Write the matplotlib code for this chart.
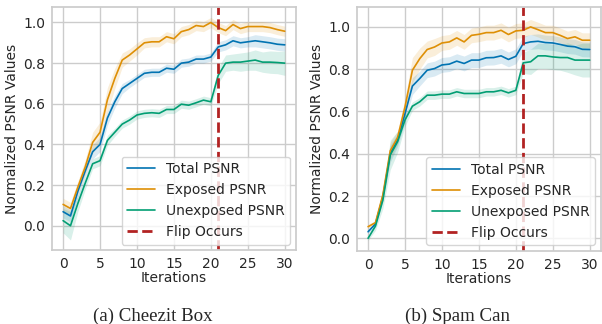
import numpy as np
import matplotlib
matplotlib.use("Agg")
import matplotlib.pyplot as plt
import seaborn as sns

iters = list(range(31))
flip_at = 21

# (a) Cheezit Box
cz_total = [0.069, 0.048, 0.17, 0.27, 0.364, 0.40, 0.53, 0.61, 0.675, 0.70, 0.725,
            0.75, 0.755, 0.755, 0.775, 0.77, 0.80, 0.805, 0.82, 0.82, 0.83,
            0.88, 0.89, 0.91, 0.90, 0.905, 0.91, 0.905, 0.90, 0.893, 0.89]
cz_exposed = [0.105, 0.085, 0.19, 0.29, 0.41, 0.46, 0.62, 0.725, 0.815, 0.84, 0.87,
              0.90, 0.905, 0.905, 0.93, 0.92, 0.955, 0.965, 0.985, 0.98, 1.0,
              0.975, 0.96, 0.99, 0.97, 0.98, 0.98, 0.98, 0.975, 0.965, 0.957]
cz_unexposed = [0.025, 0.0, 0.11, 0.21, 0.305, 0.32, 0.42, 0.46, 0.50, 0.52, 0.545,
                0.553, 0.556, 0.553, 0.572, 0.572, 0.598, 0.593, 0.605, 0.618, 0.61,
                0.74, 0.80, 0.805, 0.805, 0.81, 0.815, 0.805, 0.805, 0.803, 0.80]
cz_total_sd = [0.03, 0.03, 0.03, 0.03, 0.035, 0.035, 0.035, 0.03, 0.025, 0.02, 0.02,
               0.02, 0.02, 0.02, 0.02, 0.02, 0.02, 0.02, 0.02, 0.02, 0.02,
               0.025, 0.025, 0.025, 0.025, 0.025, 0.03, 0.03, 0.03, 0.03, 0.03]
cz_exposed_sd = [0.03, 0.03, 0.03, 0.035, 0.05, 0.05, 0.06, 0.05, 0.035, 0.03, 0.03,
                 0.025, 0.025, 0.025, 0.025, 0.025, 0.025, 0.025, 0.025, 0.025, 0.025,
                 0.025, 0.025, 0.025, 0.025, 0.025, 0.025, 0.025, 0.025, 0.025, 0.025]
cz_unexposed_sd = [0.06, 0.07, 0.04, 0.03, 0.025, 0.025, 0.025, 0.02, 0.02, 0.02, 0.02,
                   0.02, 0.02, 0.02, 0.02, 0.02, 0.02, 0.02, 0.02, 0.02, 0.02,
                   0.04, 0.04, 0.04, 0.045, 0.045, 0.05, 0.05, 0.055, 0.055, 0.06]

# (b) Spam Can
sp_total = [0.031, 0.068, 0.197, 0.40, 0.465, 0.59, 0.72, 0.756, 0.795, 0.803, 0.82,
            0.824, 0.838, 0.827, 0.843, 0.843, 0.854, 0.855, 0.863, 0.846, 0.861,
            0.921, 0.929, 0.932, 0.926, 0.924, 0.917, 0.909, 0.906, 0.894, 0.893]
sp_exposed = [0.055, 0.074, 0.205, 0.414, 0.477, 0.622, 0.795, 0.85, 0.893, 0.905, 0.924,
              0.929, 0.948, 0.929, 0.96, 0.965, 0.973, 0.973, 0.984, 0.964, 0.981,
              0.984, 1.0, 0.987, 0.973, 0.973, 0.96, 0.945, 0.953, 0.937, 0.937]
sp_unexposed = [0.0, 0.058, 0.18, 0.394, 0.457, 0.56, 0.625, 0.646, 0.677, 0.677, 0.682,
                0.682, 0.693, 0.685, 0.685, 0.685, 0.693, 0.693, 0.70, 0.688, 0.70,
                0.83, 0.835, 0.863, 0.863, 0.858, 0.855, 0.855, 0.843, 0.843, 0.843]
sp_total_sd = [0.01, 0.01, 0.02, 0.04, 0.03, 0.04, 0.04, 0.035, 0.035, 0.035, 0.035,
               0.035, 0.035, 0.035, 0.035, 0.035, 0.035, 0.035, 0.035, 0.035, 0.035,
               0.035, 0.035, 0.035, 0.035, 0.035, 0.035, 0.035, 0.035, 0.035, 0.035]
sp_exposed_sd = [0.01, 0.01, 0.02, 0.04, 0.03, 0.04, 0.06, 0.05, 0.04, 0.04, 0.035,
                 0.035, 0.035, 0.035, 0.035, 0.035, 0.035, 0.035, 0.035, 0.035, 0.035,
                 0.035, 0.035, 0.035, 0.035, 0.035, 0.035, 0.035, 0.035, 0.035, 0.035]
sp_unexposed_sd = [0.01, 0.02, 0.04, 0.07, 0.05, 0.03, 0.02, 0.02, 0.02, 0.02, 0.02,
                   0.02, 0.02, 0.02, 0.02, 0.02, 0.02, 0.02, 0.02, 0.02, 0.02,
                   0.05, 0.06, 0.06, 0.06, 0.06, 0.06, 0.07, 0.07, 0.08, 0.08]

panels = [
    ("(a) Cheezit Box", [cz_total, cz_exposed, cz_unexposed],
     [cz_total_sd, cz_exposed_sd, cz_unexposed_sd], (-0.12, 1.074)),
    ("(b) Spam Can", [sp_total, sp_exposed, sp_unexposed],
     [sp_total_sd, sp_exposed_sd, sp_unexposed_sd], (-0.059, 1.092)),
]
names = ["Total PSNR", "Exposed PSNR", "Unexposed PSNR"]

sns.set_theme(style="whitegrid")
plt.rcParams['font.family'] = ['DejaVu Sans']
colors = sns.color_palette("colorblind")[:3]

fig = plt.figure(figsize=(6.02, 3.24), dpi=100)
axes = [fig.add_axes([0.0864, 0.228, 0.405, 0.749]),
        fig.add_axes([0.593, 0.226, 0.405, 0.751])]

x = np.array(iters)
for ax, (caption, series, sds, ylim) in zip(axes, panels):
    for y, sd, c, n in zip(series, sds, colors, names):
        y = np.array(y)
        sd = np.array(sd)
        ax.fill_between(x, y - sd, y + sd, color=c, alpha=0.15, lw=0)
        ax.plot(x, y, color=c, lw=1.2, label=n)
    ax.axvline(flip_at, color="#b22222", ls="--", lw=2.0, label="Flip Occurs")
    ax.set_xlim(-1.5, 31.5)
    ax.set_ylim(*ylim)
    ax.set_xticks([0, 5, 10, 15, 20, 25, 30])
    ax.set_yticks([0.0, 0.2, 0.4, 0.6, 0.8, 1.0])
    ax.tick_params(labelsize=10, length=0, pad=5)
    ax.set_xlabel("Iterations", fontsize=10, labelpad=0)
    ax.set_ylabel("Normalized PSNR Values", fontsize=10, labelpad=3)
    ax.legend(loc="lower right", fontsize=10, frameon=True, borderaxespad=0.4)
    pos = ax.get_position()
    fig.text(pos.x0 + pos.width / 2 - 0.035, 0.008, caption,
             family="Liberation Serif", fontsize=13.6, ha="center", va="baseline")

fig.savefig("out.png", dpi=100)
